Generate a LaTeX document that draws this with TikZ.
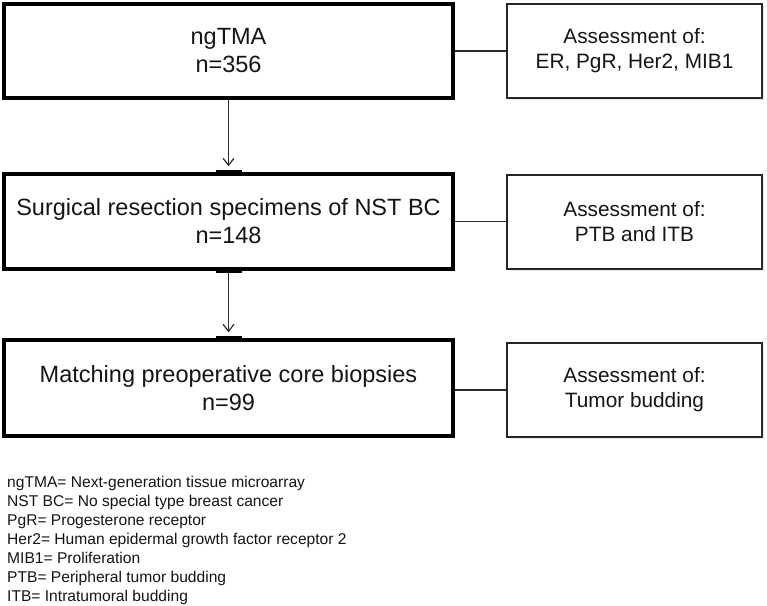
\documentclass[tikz,border=0pt]{standalone}
\usepackage{fontspec}
\setmainfont{Liberation Sans}
\usetikzlibrary{arrows.meta,shadows,calc}
\definecolor{txt}{HTML}{151515}
\definecolor{conn}{HTML}{2A2A2A}
\tikzset{
  mainbox/.style={draw=black, line width=3.5pt, fill=white, inner sep=0pt,
    align=center, text=txt, font=\fontsize{23.5}{28}\selectfont,
    drop shadow={shadow xshift=1.5pt, shadow yshift=-2pt, opacity=0.18, fill=gray}},
  sidebox/.style={draw=black!85, line width=1.2pt, fill=white, inner sep=0pt,
    align=center, text=txt, font=\fontsize{20.8}{25}\selectfont,
    minimum width=255pt, minimum height=94pt,
    drop shadow={shadow xshift=1.5pt, shadow yshift=-2pt, opacity=0.18, fill=gray}},
  link/.style={draw=conn, line width=1.1pt},
  flowarrow/.style={draw=conn, line width=1.3pt, -{Straight Barb[length=7pt,width=11pt,line width=1.2pt]}, shorten >=6pt},
  joinbar/.style={draw=black, line width=4.5pt},
  legend/.style={anchor=base west, inner sep=0pt, text=txt, font=\fontsize{15.6}{19}\selectfont}
}
\begin{document}
\begin{tikzpicture}[x=1pt,y=-1pt]
\useasboundingbox (0,0) rectangle (767,605);
% main boxes
\node[mainbox, minimum width=449pt, minimum height=94pt] (b1) at (228.5,51) {ngTMA\\n=356};
\node[mainbox, minimum width=449pt, minimum height=95pt] (b2) at (228.5,221.5) {Surgical resection specimens of NST BC\\n=148};
\node[mainbox, minimum width=449pt, minimum height=96pt] (b3) at (228.5,388) {Matching preoperative core biopsies\\n=99};
% side boxes
\node[sidebox] (r1) at (634.5,51) {Assessment of:\\ER, PgR, Her2, MIB1};
\node[sidebox] (r2) at (634.5,222) {Assessment of:\\PTB and ITB};
\node[sidebox] (r3) at (634.5,390) {Assessment of:\\Tumor budding};
% horizontal links
\draw[link] (b1.east) -- (b1.east -| r1.west);
\draw[link] (b2.east) -- (b2.east -| r2.west);
\draw[link] (b3.east |- r3.west) -- (r3.west);
% join bars
\draw[joinbar] ([xshift=-13pt]b2.north) -- ([xshift=13pt]b2.north);
\draw[joinbar] ([xshift=-13pt]b2.south) -- ([xshift=13pt]b2.south);
\draw[joinbar] ([xshift=-13pt]b3.north) -- ([xshift=13pt]b3.north);
% vertical arrows
\draw[flowarrow] (b1.south) -- (b2.north);
\draw[flowarrow] (b2.south) -- (b3.north);
% legend
\node[legend] (l1) at (7,487) {ngTMA= Next-generation tissue microarray};
\node[legend] (l2) at (7,506) {NST BC= No special type breast cancer};
\node[legend] (l3) at (7,525) {PgR= Progesterone receptor};
\node[legend] (l4) at (7,544) {Her2= Human epidermal growth factor receptor 2};
\node[legend] (l5) at (7,563) {MIB1= Proliferation};
\node[legend] (l6) at (7,582) {PTB= Peripheral tumor budding};
\node[legend] (l7) at (7,601) {ITB= Intratumoral budding};
\end{tikzpicture}
\end{document}
